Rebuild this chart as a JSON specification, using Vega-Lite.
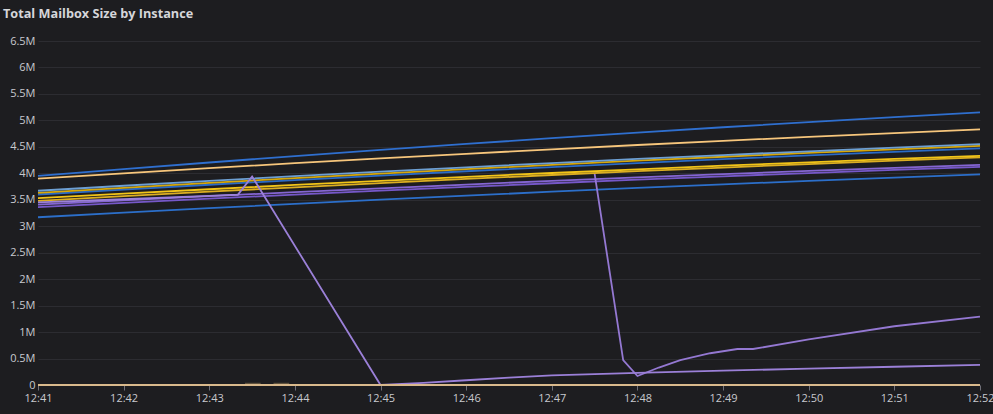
{
  "$schema": "https://vega.github.io/schema/vega-lite/v6.json",
  "width": 942,
  "height": 344,
  "autosize": {"type": "none"},
  "padding": {"left": 38, "top": 41, "right": 13, "bottom": 29},
  "background": "#1d1d20",
  "title": {
    "text": "Total Mailbox Size by Instance",
    "anchor": "start",
    "frame": "group",
    "dx": -35,
    "offset": 14,
    "font": "Open Sans",
    "fontSize": 12.7,
    "fontWeight": "bold",
    "color": "#d5d6da"
  },
  "config": {
    "view": {"stroke": null},
    "axis": {"labelFont": "Open Sans", "labelFontSize": 11, "labelColor": "#c8c9cf"}
  },
  "data": {
    "values": [
      {"s": "A", "t": "2024-01-01T12:41:00", "v": 3950000},
      {"s": "A", "t": "2024-01-01T12:42:00", "v": 4079000},
      {"s": "A", "t": "2024-01-01T12:43:00", "v": 4204000},
      {"s": "A", "t": "2024-01-01T12:44:00", "v": 4325000},
      {"s": "A", "t": "2024-01-01T12:45:00", "v": 4442000},
      {"s": "A", "t": "2024-01-01T12:46:00", "v": 4555000},
      {"s": "A", "t": "2024-01-01T12:47:00", "v": 4664000},
      {"s": "A", "t": "2024-01-01T12:48:00", "v": 4769000},
      {"s": "A", "t": "2024-01-01T12:49:00", "v": 4870000},
      {"s": "A", "t": "2024-01-01T12:50:00", "v": 4968000},
      {"s": "A", "t": "2024-01-01T12:51:00", "v": 5061000},
      {"s": "A", "t": "2024-01-01T12:52:00", "v": 5150000},
      {"s": "B", "t": "2024-01-01T12:41:00", "v": 3900000},
      {"s": "B", "t": "2024-01-01T12:42:00", "v": 4000000},
      {"s": "B", "t": "2024-01-01T12:43:00", "v": 4097000},
      {"s": "B", "t": "2024-01-01T12:44:00", "v": 4191000},
      {"s": "B", "t": "2024-01-01T12:45:00", "v": 4281000},
      {"s": "B", "t": "2024-01-01T12:46:00", "v": 4369000},
      {"s": "B", "t": "2024-01-01T12:47:00", "v": 4453000},
      {"s": "B", "t": "2024-01-01T12:48:00", "v": 4535000},
      {"s": "B", "t": "2024-01-01T12:49:00", "v": 4613000},
      {"s": "B", "t": "2024-01-01T12:50:00", "v": 4689000},
      {"s": "B", "t": "2024-01-01T12:51:00", "v": 4761000},
      {"s": "B", "t": "2024-01-01T12:52:00", "v": 4830000},
      {"s": "K", "t": "2024-01-01T12:41:00", "v": 3170000},
      {"s": "K", "t": "2024-01-01T12:42:00", "v": 3257000},
      {"s": "K", "t": "2024-01-01T12:43:00", "v": 3341000},
      {"s": "K", "t": "2024-01-01T12:44:00", "v": 3423000},
      {"s": "K", "t": "2024-01-01T12:45:00", "v": 3502000},
      {"s": "K", "t": "2024-01-01T12:46:00", "v": 3578000},
      {"s": "K", "t": "2024-01-01T12:47:00", "v": 3652000},
      {"s": "K", "t": "2024-01-01T12:48:00", "v": 3723000},
      {"s": "K", "t": "2024-01-01T12:49:00", "v": 3791000},
      {"s": "K", "t": "2024-01-01T12:50:00", "v": 3857000},
      {"s": "K", "t": "2024-01-01T12:51:00", "v": 3920000},
      {"s": "K", "t": "2024-01-01T12:52:00", "v": 3980000},
      {"s": "J", "t": "2024-01-01T12:41:00", "v": 3360000},
      {"s": "J", "t": "2024-01-01T12:42:00", "v": 3442000},
      {"s": "J", "t": "2024-01-01T12:43:00", "v": 3521000},
      {"s": "J", "t": "2024-01-01T12:44:00", "v": 3597000},
      {"s": "J", "t": "2024-01-01T12:45:00", "v": 3672000},
      {"s": "J", "t": "2024-01-01T12:46:00", "v": 3743000},
      {"s": "J", "t": "2024-01-01T12:47:00", "v": 3812000},
      {"s": "J", "t": "2024-01-01T12:48:00", "v": 3879000},
      {"s": "J", "t": "2024-01-01T12:49:00", "v": 3943000},
      {"s": "J", "t": "2024-01-01T12:50:00", "v": 4005000},
      {"s": "J", "t": "2024-01-01T12:51:00", "v": 4064000},
      {"s": "J", "t": "2024-01-01T12:52:00", "v": 4120000},
      {"s": "I", "t": "2024-01-01T12:41:00", "v": 3410000},
      {"s": "I", "t": "2024-01-01T12:42:00", "v": 3491000},
      {"s": "I", "t": "2024-01-01T12:43:00", "v": 3569000},
      {"s": "I", "t": "2024-01-01T12:44:00", "v": 3644000},
      {"s": "I", "t": "2024-01-01T12:45:00", "v": 3717000},
      {"s": "I", "t": "2024-01-01T12:46:00", "v": 3788000},
      {"s": "I", "t": "2024-01-01T12:47:00", "v": 3856000},
      {"s": "I", "t": "2024-01-01T12:48:00", "v": 3922000},
      {"s": "I", "t": "2024-01-01T12:49:00", "v": 3985000},
      {"s": "I", "t": "2024-01-01T12:50:00", "v": 4046000},
      {"s": "I", "t": "2024-01-01T12:51:00", "v": 4104000},
      {"s": "I", "t": "2024-01-01T12:52:00", "v": 4160000},
      {"s": "M", "t": "2024-01-01T12:47:30", "v": 3990000},
      {"s": "M", "t": "2024-01-01T12:47:50", "v": 470000},
      {"s": "M", "t": "2024-01-01T12:48:00", "v": 170000},
      {"s": "M", "t": "2024-01-01T12:48:15", "v": 330000},
      {"s": "M", "t": "2024-01-01T12:48:30", "v": 470000},
      {"s": "M", "t": "2024-01-01T12:48:51", "v": 600000},
      {"s": "M", "t": "2024-01-01T12:49:10", "v": 680000},
      {"s": "M", "t": "2024-01-01T12:49:21", "v": 680000},
      {"s": "M", "t": "2024-01-01T12:50:00", "v": 860000},
      {"s": "M", "t": "2024-01-01T12:51:00", "v": 1110000},
      {"s": "M", "t": "2024-01-01T12:52:00", "v": 1290000},
      {"s": "G", "t": "2024-01-01T12:41:00", "v": 3480000},
      {"s": "G", "t": "2024-01-01T12:42:00", "v": 3568000},
      {"s": "G", "t": "2024-01-01T12:43:00", "v": 3654000},
      {"s": "G", "t": "2024-01-01T12:44:00", "v": 3736000},
      {"s": "G", "t": "2024-01-01T12:45:00", "v": 3816000},
      {"s": "G", "t": "2024-01-01T12:46:00", "v": 3893000},
      {"s": "G", "t": "2024-01-01T12:47:00", "v": 3968000},
      {"s": "G", "t": "2024-01-01T12:48:00", "v": 4040000},
      {"s": "G", "t": "2024-01-01T12:49:00", "v": 4109000},
      {"s": "G", "t": "2024-01-01T12:50:00", "v": 4175000},
      {"s": "G", "t": "2024-01-01T12:51:00", "v": 4239000},
      {"s": "G", "t": "2024-01-01T12:52:00", "v": 4300000},
      {"s": "F", "t": "2024-01-01T12:41:00", "v": 3530000},
      {"s": "F", "t": "2024-01-01T12:42:00", "v": 3616000},
      {"s": "F", "t": "2024-01-01T12:43:00", "v": 3699000},
      {"s": "F", "t": "2024-01-01T12:44:00", "v": 3780000},
      {"s": "F", "t": "2024-01-01T12:45:00", "v": 3858000},
      {"s": "F", "t": "2024-01-01T12:46:00", "v": 3933000},
      {"s": "F", "t": "2024-01-01T12:47:00", "v": 4006000},
      {"s": "F", "t": "2024-01-01T12:48:00", "v": 4076000},
      {"s": "F", "t": "2024-01-01T12:49:00", "v": 4144000},
      {"s": "F", "t": "2024-01-01T12:50:00", "v": 4208000},
      {"s": "F", "t": "2024-01-01T12:51:00", "v": 4271000},
      {"s": "F", "t": "2024-01-01T12:52:00", "v": 4330000},
      {"s": "E", "t": "2024-01-01T12:41:00", "v": 3600000},
      {"s": "E", "t": "2024-01-01T12:42:00", "v": 3693000},
      {"s": "E", "t": "2024-01-01T12:43:00", "v": 3784000},
      {"s": "E", "t": "2024-01-01T12:44:00", "v": 3872000},
      {"s": "E", "t": "2024-01-01T12:45:00", "v": 3957000},
      {"s": "E", "t": "2024-01-01T12:46:00", "v": 4039000},
      {"s": "E", "t": "2024-01-01T12:47:00", "v": 4118000},
      {"s": "E", "t": "2024-01-01T12:48:00", "v": 4194000},
      {"s": "E", "t": "2024-01-01T12:49:00", "v": 4267000},
      {"s": "E", "t": "2024-01-01T12:50:00", "v": 4338000},
      {"s": "E", "t": "2024-01-01T12:51:00", "v": 4405000},
      {"s": "E", "t": "2024-01-01T12:52:00", "v": 4470000},
      {"s": "D", "t": "2024-01-01T12:41:00", "v": 3630000},
      {"s": "D", "t": "2024-01-01T12:42:00", "v": 3726000},
      {"s": "D", "t": "2024-01-01T12:43:00", "v": 3818000},
      {"s": "D", "t": "2024-01-01T12:44:00", "v": 3908000},
      {"s": "D", "t": "2024-01-01T12:45:00", "v": 3995000},
      {"s": "D", "t": "2024-01-01T12:46:00", "v": 4079000},
      {"s": "D", "t": "2024-01-01T12:47:00", "v": 4160000},
      {"s": "D", "t": "2024-01-01T12:48:00", "v": 4238000},
      {"s": "D", "t": "2024-01-01T12:49:00", "v": 4313000},
      {"s": "D", "t": "2024-01-01T12:50:00", "v": 4385000},
      {"s": "D", "t": "2024-01-01T12:51:00", "v": 4454000},
      {"s": "D", "t": "2024-01-01T12:52:00", "v": 4520000},
      {"s": "C", "t": "2024-01-01T12:41:00", "v": 3670000},
      {"s": "C", "t": "2024-01-01T12:42:00", "v": 3765000},
      {"s": "C", "t": "2024-01-01T12:43:00", "v": 3856000},
      {"s": "C", "t": "2024-01-01T12:44:00", "v": 3945000},
      {"s": "C", "t": "2024-01-01T12:45:00", "v": 4031000},
      {"s": "C", "t": "2024-01-01T12:46:00", "v": 4114000},
      {"s": "C", "t": "2024-01-01T12:47:00", "v": 4194000},
      {"s": "C", "t": "2024-01-01T12:48:00", "v": 4271000},
      {"s": "C", "t": "2024-01-01T12:49:00", "v": 4345000},
      {"s": "C", "t": "2024-01-01T12:50:00", "v": 4416000},
      {"s": "C", "t": "2024-01-01T12:51:00", "v": 4485000},
      {"s": "C", "t": "2024-01-01T12:52:00", "v": 4550000},
      {"s": "H", "t": "2024-01-01T12:41:00", "v": 3450000},
      {"s": "H", "t": "2024-01-01T12:42:00", "v": 3510000},
      {"s": "H", "t": "2024-01-01T12:43:00", "v": 3575000},
      {"s": "H", "t": "2024-01-01T12:43:20", "v": 3595000},
      {"s": "H", "t": "2024-01-01T12:43:30", "v": 3940000},
      {"s": "H", "t": "2024-01-01T12:45:00", "v": 0},
      {"s": "H", "t": "2024-01-01T12:45:30", "v": 40000},
      {"s": "H", "t": "2024-01-01T12:46:00", "v": 90000},
      {"s": "H", "t": "2024-01-01T12:46:30", "v": 140000},
      {"s": "H", "t": "2024-01-01T12:47:00", "v": 180000},
      {"s": "H", "t": "2024-01-01T12:47:30", "v": 205000},
      {"s": "H", "t": "2024-01-01T12:48:00", "v": 230000},
      {"s": "H", "t": "2024-01-01T12:49:00", "v": 270000},
      {"s": "H", "t": "2024-01-01T12:50:00", "v": 310000},
      {"s": "H", "t": "2024-01-01T12:51:00", "v": 345000},
      {"s": "H", "t": "2024-01-01T12:52:00", "v": 380000},
      {"s": "N1", "t": "2024-01-01T12:43:25", "v": 25000},
      {"s": "N1", "t": "2024-01-01T12:43:36", "v": 25000},
      {"s": "N2", "t": "2024-01-01T12:43:45", "v": 25000},
      {"s": "N2", "t": "2024-01-01T12:43:56", "v": 25000},
      {"s": "L", "t": "2024-01-01T12:41:00", "v": 0},
      {"s": "L", "t": "2024-01-01T12:52:00", "v": 0}
    ]
  },
  "mark": {"type": "line", "strokeWidth": 1.8},
  "encoding": {
    "x": {
      "field": "t",
      "type": "temporal",
      "title": null,
      "axis": {
        "format": "%H:%M",
        "tickCount": 11,
        "grid": false,
        "domain": false,
        "tickColor": "#707078",
        "tickSize": 5,
        "labelPadding": 2,
        "labelFlush": false
      }
    },
    "y": {
      "field": "v",
      "type": "quantitative",
      "title": null,
      "scale": {"domain": [0, 6500000]},
      "axis": {
        "tickCount": 13,
        "labelExpr": "datum.value === 0 ? '0' : (datum.value / 1000000) + 'M'",
        "gridColor": "#2c2c31",
        "domain": false,
        "ticks": false,
        "labelPadding": 3
      }
    },
    "color": {
      "field": "s",
      "type": "nominal",
      "legend": null,
      "scale": {
        "domain": ["A", "B", "K", "J", "I", "M", "G", "F", "E", "D", "C", "H", "N1", "N2", "L"],
        "range": ["#2f6fcf", "#f7c67c", "#2c6fca", "#7658c9", "#8566d2", "#9478d2", "#dcae22", "#f2c418", "#2b6bc6", "#d6a80c", "#6d9fd3", "#9b80d8", "#5e513d", "#5e513d", "#d9b98c"]
      }
    }
  }
}
